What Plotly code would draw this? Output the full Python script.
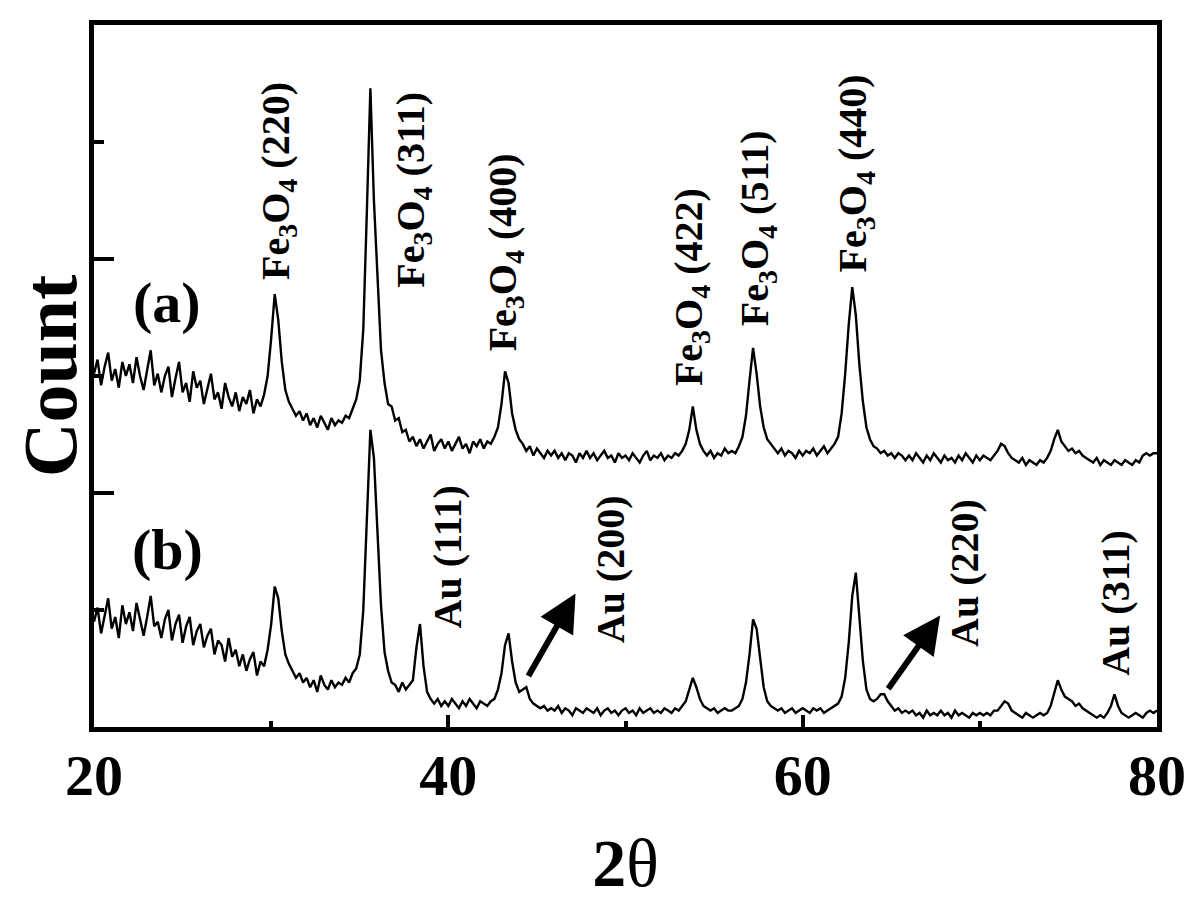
import numpy as np
import plotly.graph_objects as go

# 2-theta sampling grid of the scan (0.2 deg steps)
two_theta = np.round(np.arange(20.0, 80.0001, 0.2), 1)

# pattern (a): Fe3O4 (arbitrary counts, offset upward)
counts_a = [
    151, 157, 146, 154, 160, 148, 153, 145, 156, 150,
    155, 147, 158, 150, 144, 152, 161, 146, 151, 143,
    150, 154, 141, 149, 156, 143, 147, 139, 152, 145,
    148, 138, 145, 151, 140, 143, 136, 147, 141, 137,
    143, 135, 141, 138, 144, 134, 140, 137, 142, 150,
    166, 185, 174, 156, 144, 139, 136, 133, 135, 131,
    134, 129, 132, 128, 133, 130, 127, 132, 129, 131,
    130, 133, 132, 136, 140, 148, 170, 220, 273, 225,
    190, 161, 147, 138, 137, 131, 132, 126, 127, 122,
    124, 120, 123, 119, 122, 125, 118, 121, 123, 119,
    122, 118, 121, 124, 119, 121, 117, 122, 120, 123,
    119, 122, 121, 124, 128, 138, 152, 147, 134, 127,
    123, 121, 118, 120, 116, 119, 117, 115, 118, 116,
    118, 115, 117, 114, 117, 116, 113, 117, 115, 118,
    115, 117, 114, 116, 118, 115, 116, 113, 117, 115,
    116, 114, 117, 115, 113, 116, 118, 114, 116, 115,
    117, 114, 116, 115, 117, 116, 118, 121, 127, 137,
    127, 121, 118, 116, 118, 115, 117, 116, 119, 117,
    118, 117, 120, 124, 133, 148, 162, 151, 137, 128,
    123, 121, 119, 117, 119, 116, 118, 117, 115, 118,
    116, 118, 117, 119, 116, 118, 120, 117, 119, 121,
    124, 134, 151, 172, 188, 176, 155, 139, 128, 123,
    120, 119, 117, 118, 116, 117, 115, 117, 116, 114,
    116, 114, 117, 115, 113, 116, 114, 117, 115, 113,
    116, 114, 115, 113, 116, 114, 117, 115, 113, 116,
    114, 116, 115, 114, 116, 118, 121, 120, 117, 115,
    114, 113, 115, 112, 114, 113, 112, 114, 113, 115,
    118, 123, 127, 122, 120, 118, 119, 117, 118, 116,
    115, 114, 113, 115, 112, 114, 113, 112, 114, 113,
    112, 114, 113, 112, 114, 113, 116, 117, 116, 117,
    117,
]

# pattern (b): Fe3O4 + Au
counts_b = [
    45, 51, 40, 48, 55, 42, 47, 38, 52, 44,
    49, 41, 53, 46, 39, 47, 56, 43, 45, 38,
    46, 50, 37, 44, 48, 36, 43, 47, 35, 41,
    44, 34, 39, 42, 31, 37, 35, 28, 38, 30,
    33, 26, 31, 24, 29, 32, 22, 28, 26, 33,
    44, 60, 55, 41, 31, 27, 24, 21, 23, 19,
    21, 17, 20, 15, 22, 18, 16, 20, 17, 19,
    18, 21, 19, 23, 25, 31, 50, 90, 127, 115,
    82, 52, 32, 24, 19, 18, 15, 19, 16, 18,
    20, 34, 44, 26, 15, 12, 10, 12, 9, 11,
    9, 12, 10, 8, 11, 9, 12, 10, 8, 11,
    10, 9, 11, 12, 16, 23, 35, 40, 28, 19,
    15, 16, 17, 12, 10, 9, 8, 9, 7, 8,
    7, 9, 6, 8, 7, 5, 8, 7, 6, 8,
    7, 6, 8, 5, 7, 8, 6, 7, 5, 7,
    8, 6, 7, 5, 8, 6, 7, 8, 6, 7,
    6, 8, 7, 6, 8, 7, 9, 11, 16, 21,
    17, 12, 9, 8, 7, 8, 6, 7, 8, 7,
    7, 8, 9, 12, 19, 31, 46, 42, 28, 17,
    11, 9, 8, 7, 8, 6, 7, 8, 6, 7,
    8, 7, 6, 8, 7, 8, 6, 7, 8, 9,
    10, 13, 21, 36, 56, 66, 47, 28, 16, 12,
    11, 12, 14, 14, 11, 9, 7, 8, 6, 7,
    6, 7, 5, 6, 4, 7, 5, 6, 5, 7,
    5, 6, 4, 7, 5, 6, 5, 4, 6, 5,
    6, 5, 6, 5, 7, 7, 9, 11, 10, 7,
    6, 5, 4, 6, 5, 4, 5, 6, 5, 6,
    9, 15, 20, 16, 13, 12, 11, 9, 10, 8,
    7, 6, 5, 4, 5, 4, 6, 9, 14, 9,
    6, 5, 4, 5, 6, 5, 4, 6, 7, 6,
    7,
]

# peak labels: text, 2theta, height (label centre)
peak_labels = [
    "Fe<sub>3</sub>O<sub>4</sub> (220)", "Fe<sub>3</sub>O<sub>4</sub> (311)",
    "Fe<sub>3</sub>O<sub>4</sub> (400)", "Fe<sub>3</sub>O<sub>4</sub> (422)",
    "Fe<sub>3</sub>O<sub>4</sub> (511)", "Fe<sub>3</sub>O<sub>4</sub> (440)",
    "Au (111)", "Au (200)", "Au (220)", "Au (311)",
]
peak_label_x = [30.38, 37.99, 43.18, 53.67, 57.44, 62.97, 39.96, 49.15, 69.17, 77.69]
peak_label_y = [233.3, 229.5, 202.7, 187.8, 213.3, 236.7, 72.7, 67.6, 65.9, 53.1]

sample_labels = ["(a)", "(b)"]
sample_label_x = [24.12, 24.17]
sample_label_y = [181.5, 76.0]

# arrows pointing at the Au shoulders: tail -> tip
arrow_tail_x = [44.47, 64.77]
arrow_tail_y = [21.2, 15.7]
arrow_tip_x = [47.18, 67.76]
arrow_tip_y = [57.0, 47.6]

assert len(counts_a) == len(two_theta) and len(counts_b) == len(two_theta)

SERIF = "Liberation Serif"

fig = go.Figure()
for counts, name in [(counts_a, "(a)"), (counts_b, "(b)")]:
    fig.add_trace(
        go.Scatter(x=two_theta, y=counts, mode="lines", name=name,
                   line=dict(color="black", width=2.4), showlegend=False)
    )

for text, x, y in zip(peak_labels, peak_label_x, peak_label_y):
    fig.add_annotation(x=x, y=y, text=text, showarrow=False, textangle=-90,
                       xanchor="center", yanchor="middle",
                       font=dict(family=SERIF, size=40, color="black", weight="bold"))

for text, x, y in zip(sample_labels, sample_label_x, sample_label_y):
    fig.add_annotation(x=x, y=y, text=text, showarrow=False,
                       xanchor="center", yanchor="middle",
                       font=dict(family=SERIF, size=58, color="black", weight="bold"))

for tx, ty, hx, hy in zip(arrow_tail_x, arrow_tail_y, arrow_tip_x, arrow_tip_y):
    fig.add_annotation(x=hx, y=hy, ax=tx, ay=ty, axref="x", ayref="y", text="",
                       showarrow=True, arrowhead=2, arrowsize=1.25, arrowwidth=6,
                       arrowcolor="black", standoff=0, startstandoff=0)

# the page body adds an 8px margin, so the figure is sized to fit the window
fig.update_layout(
    width=1192, height=902,
    margin=dict(l=85, r=43, t=13, b=183),
    paper_bgcolor="white", plot_bgcolor="white",
    font=dict(family=SERIF, color="black"),
)
fig.update_xaxes(
    range=[20, 80], showgrid=False, zeroline=False,
    showline=True, linecolor="black", linewidth=5, mirror=True,
    ticks="inside", tickvals=[20, 40, 60, 80], ticklen=12, tickwidth=4, tickcolor="black",
    minor=dict(tickvals=[30, 50, 70], ticks="inside", ticklen=6, tickwidth=4, tickcolor="black"),
    tickfont=dict(family=SERIF, size=58, weight="bold"), ticklabelstandoff=-7,
    title=dict(text="<b>2</b>θ", font=dict(family=SERIF, size=68), standoff=33),
)
fig.update_yaxes(
    range=[0, 300], showgrid=False, zeroline=False,
    showline=True, linecolor="black", linewidth=5, mirror=True,
    ticks="inside", tickvals=[100, 200], ticklen=20, tickwidth=4, tickcolor="black",
    minor=dict(tickvals=[50, 150, 250], ticks="inside", ticklen=10, tickwidth=4, tickcolor="black"),
    showticklabels=False,
    title=dict(text="Count", font=dict(family=SERIF, size=76, weight="bold"), standoff=21),
)

fig.write_html("out.html")
